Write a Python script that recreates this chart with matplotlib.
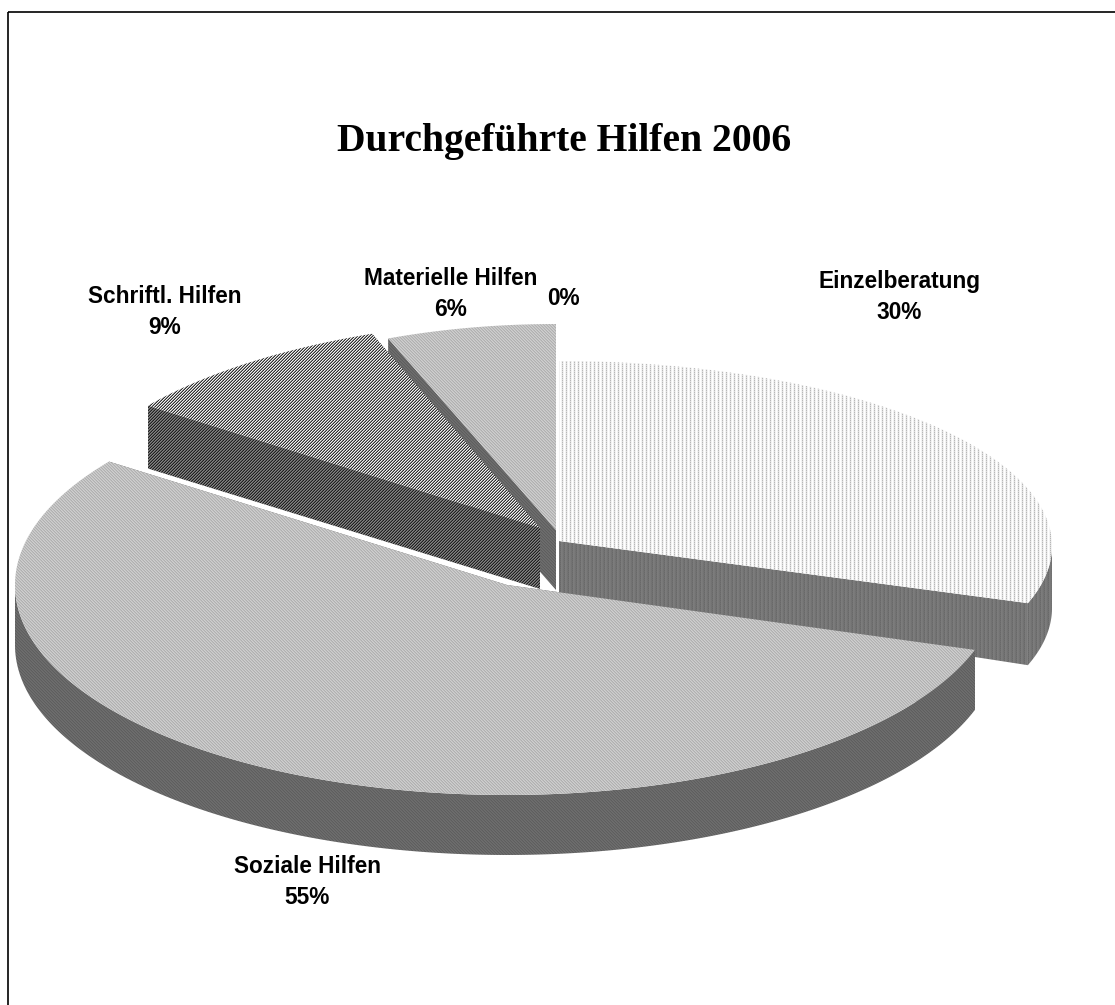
import numpy as np
import matplotlib
matplotlib.use("Agg")
import matplotlib.pyplot as plt
from matplotlib.patches import Polygon, Rectangle

categories = ["Einzelberatung", "Soziale Hilfen", "Schriftl. Hilfen", "Materielle Hilfen", ""]
shares = [30, 55, 9, 6, 0]
title = "Durchgeführte Hilfen 2006"

# Projected rim of each slice: centre x/y, horizontal and vertical radius
rims = {
    "Einzelberatung": (559, 546, 493, 185),
    "Soziale Hilfen": (507, 585, 492, 210),
    "Schriftl. Hilfen": (559, 529, 508, 210),
    "Materielle Hilfen": (556, 530, 456, 206),
}
apexes = {
    "Einzelberatung": (559, 541),
    "Soziale Hilfen": (507, 585),
    "Schriftl. Hilfen": (540, 528),
    "Materielle Hilfen": (556, 530),
}
# Wall height at the rim and at the apex
depths = {
    "Einzelberatung": (62, 52),
    "Soziale Hilfen": (60, 60),
    "Schriftl. Hilfen": (63, 61),
    "Materielle Hilfen": (60, 60),
}
label_pos = {
    "Einzelberatung": (899, 297),
    "Soziale Hilfen": (307, 882),
    "Schriftl. Hilfen": (165, 312),
    "Materielle Hilfen": (451, 294),
    "": (563, 298),
}

W, H = 1115, 1005


def vertical(columns):
    """Dither of vertical stripes; each row of `columns` is one scanline of the tile."""
    tile = np.array(columns, dtype=float)
    rows = np.tile(tile, (H // tile.shape[0] + 1, W // tile.shape[1] + 1))
    return rows[:H, :W]


def diagonal(levels, rising=True):
    """Dither of diagonal stripes with the given repeating grey levels."""
    yy, xx = np.mgrid[0:H, 0:W]
    index = (xx + yy) if rising else (xx - yy)
    return np.asarray(levels, dtype=float)[index % len(levels)]


soft_top = diagonal([0xB0, 0xCE, 0xC0], rising=False)
soft_side = diagonal([0x5E, 0x6E, 0x68], rising=False)
top_texture = {
    "Einzelberatung": vertical([[0xFF, 0xF4, 0xB8, 0xF4], [0xFF, 0xF4, 0xDC, 0xF4]]),
    "Soziale Hilfen": soft_top,
    "Schriftl. Hilfen": diagonal([0x30, 0xF0, 0x90]),
    "Materielle Hilfen": soft_top,
}
side_texture = {
    "Einzelberatung": vertical([[0x6A, 0x7C, 0x7A, 0x74], [0x70, 0x7C, 0x7A, 0x72]]),
    "Soziale Hilfen": soft_side,
    "Schriftl. Hilfen": diagonal([0x20, 0x84, 0x58]),
    "Materielle Hilfen": soft_side,
}

fig = plt.figure(figsize=(W / 100, H / 100), dpi=100, facecolor="white")
ax = fig.add_axes([0, 0, 1, 1])
ax.set_xlim(0, W)
ax.set_ylim(H, 0)
ax.set_autoscale_on(False)
ax.axis("off")
# The frame runs off the right and bottom of the canvas
ax.add_patch(Rectangle((7.5, 11.5), W + 40, H + 40, fill=False, ec="black", lw=1.2))


def project(name, deg):
    cx, cy, rx, ry = rims[name]
    t = np.radians(deg)
    return np.column_stack([cx + rx * np.sin(t), cy - ry * np.cos(t)])


def fill(points, texture, z):
    image = ax.imshow(texture, cmap="gray", vmin=0, vmax=255, extent=(0, W, H, 0),
                      interpolation="none", aspect="auto", zorder=z)
    image.set_clip_path(Polygon(points, closed=True, transform=ax.transData))


edges = np.cumsum([0] + shares) * 3.6
spans = {c: (edges[i], edges[i + 1]) for i, c in enumerate(categories) if shares[i] > 0}

# Painter's order: the back slices first, the big front slice last
for z, name in enumerate(["Materielle Hilfen", "Schriftl. Hilfen", "Einzelberatung", "Soziale Hilfen"]):
    start, end = spans[name]
    rim_drop = np.array([0, depths[name][0]])
    apex_drop = np.array([0, depths[name][1]])
    apex = np.array(apexes[name], dtype=float)
    arc = project(name, np.linspace(start, end, 240))
    # Cut faces along both radii
    for tip in (arc[0], arc[-1]):
        fill(np.array([apex, tip, tip + rim_drop, apex + apex_drop]), side_texture[name], z * 3 + 1)
    # Outer wall, only where it faces the viewer
    lo, hi = max(start, 90), min(end, 270)
    if hi > lo:
        wall = project(name, np.linspace(lo, hi, 240))
        fill(np.vstack([wall, (wall + rim_drop)[::-1]]), side_texture[name], z * 3 + 2)
    fill(np.vstack([apex, arc]), top_texture[name], z * 3 + 3)

ax.text(564, 151, title, family=["Liberation Serif"], weight="bold", fontsize=28.5,
        ha="center", va="baseline", color="black", zorder=30)
for name, share in zip(categories, shares):
    x, y = label_pos[name]
    text = f"{name}\n{share}%" if name else f"{share}%"
    ax.text(x, y, text, family=["Liberation Sans"], weight="bold", fontsize=16.3,
            ha="center", va="center", linespacing=1.42, color="black", zorder=30)

fig.savefig("out.png", dpi=100, facecolor="white")
